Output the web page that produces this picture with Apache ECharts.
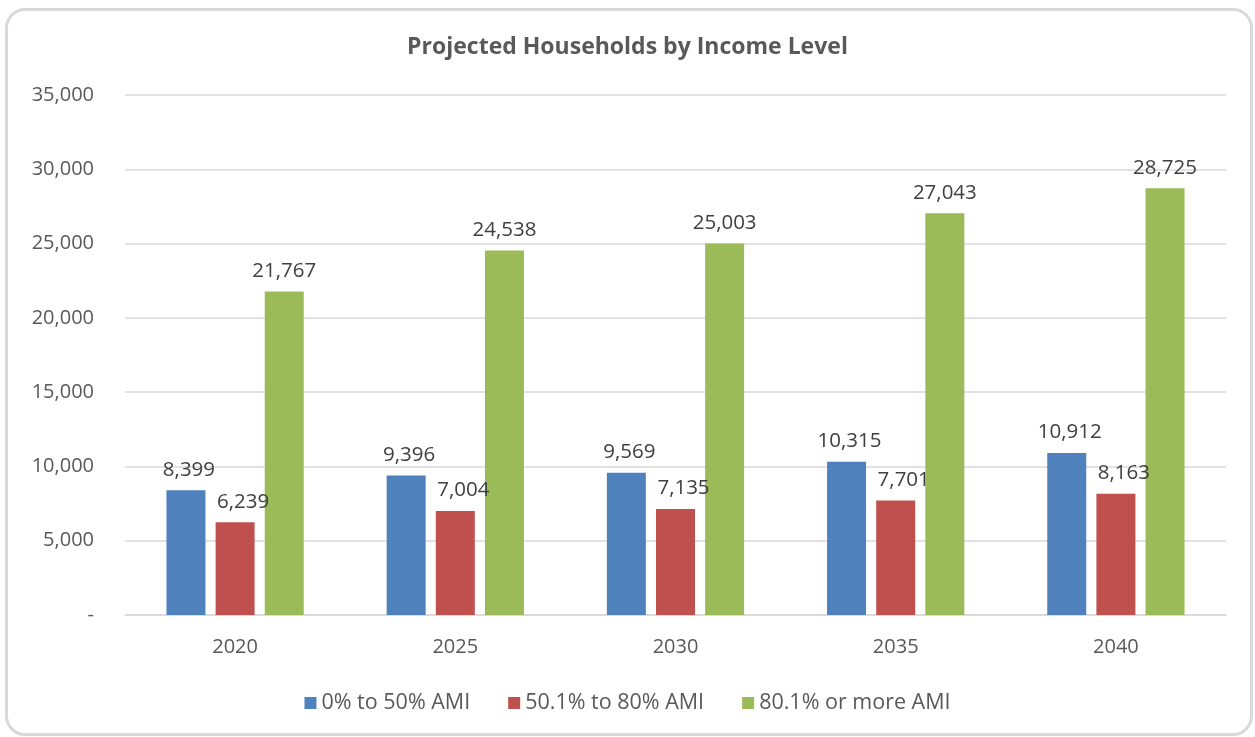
<!DOCTYPE html>
<html>
<head>
<meta charset="utf-8">
<script src="https://cdn.jsdelivr.net/npm/echarts@6/dist/echarts.min.js"></script>
<style>
  html, body { margin: 0; padding: 0; background: #fff; }
  #chart { position: absolute; left: 0; top: 0; width: 1255px; height: 737px; }
  .frame {
    position: absolute; left: 5px; top: 8px; width: 1242px; height: 722px;
    border: 3px solid #d9d9d9; border-radius: 20px; pointer-events: none;
  }
</style>
</head>
<body>
<div id="chart"></div>
<div class="frame"></div>
<script>
const years = ['2020', '2025', '2030', '2035', '2040']
const low = [8399, 9396, 9569, 10315, 10912]
const mid = [6239, 7004, 7135, 7701, 8163]
const high = [21767, 24538, 25003, 27043, 28725]
const seriesNames = ['0% to 50% AMI', '50.1% to 80% AMI', '80.1% or more AMI']

const FONT = '"Open Sans", "Liberation Sans", sans-serif'
const fmt = (v) => Number(v).toLocaleString('en-US')

function barSeries(name, data, color, offset) {
  return {
    name,
    type: 'bar',
    data,
    barWidth: 39,
    barGap: '26%',
    itemStyle: { color },
    label: {
      show: true,
      position: 'top',
      distance: 10,
      offset,
      color: '#404040',
      fontFamily: FONT,
      fontSize: 20.5,
      formatter: (p) => fmt(p.value),
    },
  }
}

const chart = echarts.init(document.getElementById('chart'))
chart.setOption({
  animation: false,
  textStyle: { fontFamily: FONT },
  title: {
    text: 'Projected Households by Income Level',
    left: 'center',
    top: 31,
    textStyle: { fontFamily: FONT, fontSize: 23, fontWeight: 'bold', color: '#595959' },
  },
  legend: {
    top: 687,
    left: 'center',
    itemWidth: 12,
    itemHeight: 12,
    itemGap: 38,
    icon: 'rect',
    textStyle: { fontFamily: FONT, fontSize: 21.5, color: '#595959' },
    data: seriesNames,
  },
  grid: { left: 125, right: 29, top: 95, bottom: 122, containLabel: false },
  xAxis: {
    type: 'category',
    data: years,
    axisLine: { lineStyle: { color: '#d9d9d9', width: 1.5 } },
    axisTick: { show: false },
    axisLabel: { color: '#595959', fontSize: 20, fontFamily: FONT, margin: 22 },
  },
  yAxis: {
    type: 'value',
    min: 0,
    max: 35000,
    interval: 5000,
    axisLine: { show: false },
    axisTick: { show: false },
    splitLine: { lineStyle: { color: '#d9d9d9', width: 1.5 } },
    axisLabel: {
      color: '#595959', fontSize: 20, fontFamily: FONT, margin: 31,
      formatter: (v) => (v === 0 ? '-' : fmt(v)),
    },
  },
  series: [
    barSeries(seriesNames[0], low, '#4f81bd', [3, 0]),
    barSeries(seriesNames[1], mid, '#c0504d', [8, 0]),
    barSeries(seriesNames[2], high, '#9bbb59', [0, 0]),
  ],
})
</script>
</body>
</html>
